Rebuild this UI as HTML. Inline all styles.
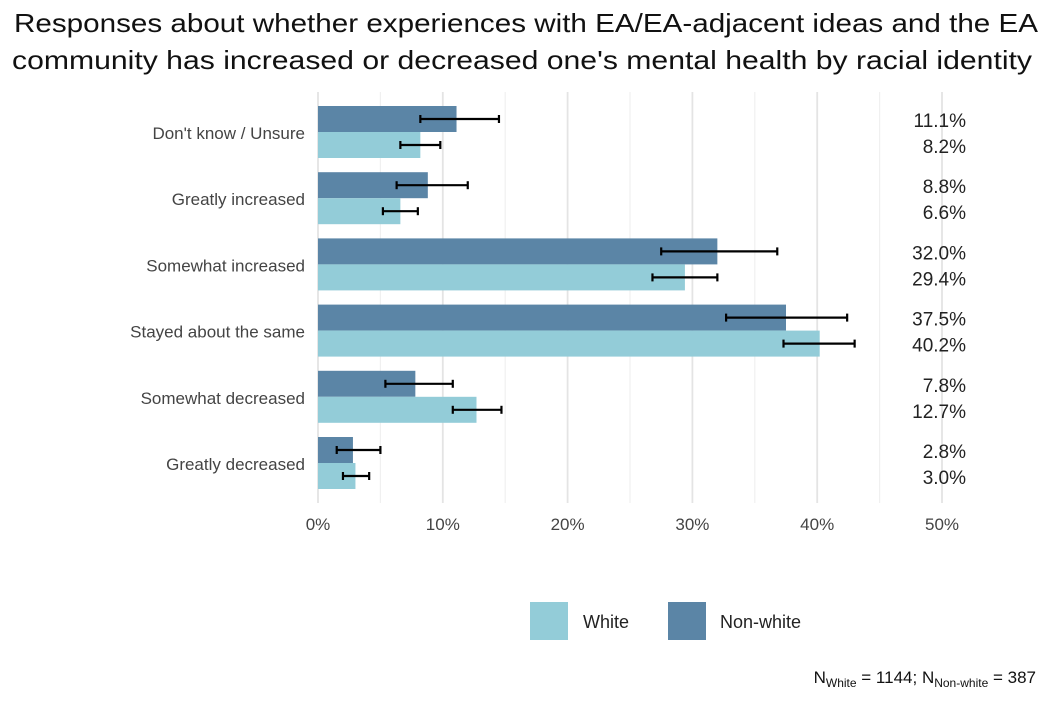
<!DOCTYPE html>
<html><head><meta charset="utf-8"><style>
body{margin:0;background:#fff;font-family:"Liberation Sans",sans-serif}
</style></head><body>
<svg id="c" width="1051" height="700" xmlns="http://www.w3.org/2000/svg" font-family="Liberation Sans, sans-serif">
<text x="14" y="32" font-size="26" textLength="1024" lengthAdjust="spacingAndGlyphs" fill="#111">Responses about whether experiences with EA/EA-adjacent ideas and the EA</text>
<text x="12" y="69" font-size="26" textLength="1020" lengthAdjust="spacingAndGlyphs" fill="#111">community has increased or decreased one's mental health by racial identity</text>
<g id="grid"></g><g id="bars"></g><g id="labels"></g>
<rect x="530" y="602" width="38" height="38" fill="#93ccd8"/>
<text x="583" y="628" font-size="18" fill="#222">White</text>
<rect x="668" y="602" width="38" height="38" fill="#5b85a6"/>
<text x="720" y="628" font-size="18" fill="#222">Non-white</text>
<text x="1036" y="683" text-anchor="end" font-size="17" fill="#111">N<tspan font-size="12" dy="4">White</tspan><tspan dy="-4"> = 1144; N</tspan><tspan font-size="12" dy="4">Non-white</tspan><tspan dy="-4"> = 387</tspan></text>
</svg>
<script>
const categories=["Don't know / Unsure","Greatly increased","Somewhat increased","Stayed about the same","Somewhat decreased","Greatly decreased"];
const nonWhite=[11.1,8.8,32.0,37.5,7.8,2.8];
const white=[8.2,6.6,29.4,40.2,12.7,3.0];
const nonWhiteLo=[8.2,6.3,27.5,32.7,5.4,1.5];
const nonWhiteHi=[14.5,12.0,36.8,42.4,10.8,5.0];
const whiteLo=[6.6,5.2,26.8,37.3,10.8,2.0];
const whiteHi=[9.8,8.0,32.0,43.0,14.7,4.1];
const ticks=[0,10,20,30,40,50];
const NS="http://www.w3.org/2000/svg";
const x=v=>318+v*12.48;
const yc=i=>132+i*66.2;
function mk(p,t,a){const e=document.createElementNS(NS,t);for(const k in a)e.setAttribute(k,a[k]);document.getElementById(p).appendChild(e);return e;}
for(let v=0;v<=50;v+=5){
 const l=mk('grid','line',{x1:x(v),x2:x(v),y1:92,y2:503,stroke:v%10?'#f0f0f0':'#e4e4e4','stroke-width':v%10?1.2:1.8});
 
 
}
ticks.forEach(t=>{
 const e=mk('labels','text',{x:x(t),y:530,'text-anchor':'middle','font-size':17,fill:'#444'});e.textContent=t+'%';
 
 
});
function eb(lo,hi,y){
 const g=mk('bars','g',{stroke:'#000','stroke-width':2.2});
 
 
 [[x(lo),y,x(hi),y],[x(lo),y-4,x(lo),y+4],[x(hi),y-4,x(hi),y+4]].forEach(c=>{const l=document.createElementNS(NS,'line');l.setAttribute('x1',c[0]);l.setAttribute('y1',c[1]);l.setAttribute('x2',c[2]);l.setAttribute('y2',c[3]);g.appendChild(l);});
}
categories.forEach((c,i)=>{
 const y=yc(i);
 const b1=mk('bars','rect',{x:x(0),y:y-26,width:x(nonWhite[i])-x(0),height:26,fill:'#5b85a6'});
 
 
 const b2=mk('bars','rect',{x:x(0),y:y,width:x(white[i])-x(0),height:26,fill:'#93ccd8'});
 
 
 eb(nonWhiteLo[i],nonWhiteHi[i],y-13);
 eb(whiteLo[i],whiteHi[i],y+13);
 const t=mk('labels','text',{x:305,y:y+7,'text-anchor':'end','font-size':17,fill:'#444'});t.textContent=c;
 
 
 const v1=mk('labels','text',{x:966,y:y-5,'text-anchor':'end','font-size':19,fill:'#222'});v1.textContent=nonWhite[i].toFixed(1)+'%';
 
 
 const v2=mk('labels','text',{x:966,y:y+21,'text-anchor':'end','font-size':19,fill:'#222'});v2.textContent=white[i].toFixed(1)+'%';
 
 
});
</script>
</body></html>
